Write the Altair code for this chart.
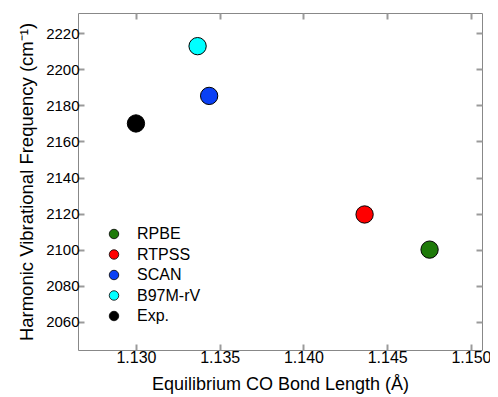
import altair as alt
import pandas as pd

methods = ["RPBE", "RTPSS", "SCAN", "B97M-rV", "Exp."]
bond_length = [1.14753, 1.14365, 1.13437, 1.13368, 1.1300]
frequency = [2100.0, 2119.5, 2185.3, 2212.9, 2170.0]
colors = ["#1e7a0a", "#ff0000", "#0a40f5", "#00ffff", "#000000"]
x_ticks = [1.130, 1.135, 1.140, 1.145, 1.150]
y_ticks = [2060, 2080, 2100, 2120, 2140, 2160, 2180, 2200, 2220]

df = pd.DataFrame({"method": methods, "r": bond_length, "f": frequency})

FONT = "Liberation Sans"
xscale = alt.Scale(domain=[1.12654, 1.15066], nice=False, zero=False)
yscale = alt.Scale(domain=[2044.3, 2231.3], nice=False, zero=False)
GRAY = "#888888"
TICK = "#9a9a9a"
INWARD = alt.ExprRef(expr="-6")

points = alt.Chart(df).mark_circle(size=300, opacity=1, stroke="black", strokeWidth=1).encode(
    x=alt.X("r:Q", scale=xscale, axis=alt.Axis(
        title="Equilibrium CO Bond Length (Å)", values=x_ticks, format=".3f",
        ticks=True, tickSize=INWARD, tickColor=TICK, tickWidth=2,
        domain=False, grid=False, labelFontSize=16, titleFontSize=18,
        labelFont=FONT, titleFont=FONT, labelColor="black", titleColor="black",
        labelPadding=5, titlePadding=10, titleFontWeight="normal")),
    y=alt.Y("f:Q", scale=yscale, axis=alt.Axis(
        title="Harmonic Vibrational Frequency (cm⁻¹)", values=y_ticks, format="d",
        ticks=True, tickSize=INWARD, tickColor=TICK, tickWidth=2,
        domain=False, grid=False, labelFontSize=15, titleFontSize=18.5,
        labelFont=FONT, titleFont=FONT, labelColor="black", titleColor="black",
        labelPadding=5, titlePadding=9, titleFontWeight="normal")),
    color=alt.Color("method:N", scale=alt.Scale(domain=methods, range=colors),
                    legend=alt.Legend(title=None, orient="none", legendX=28, legendY=213,
                                      labelFont=FONT, labelFontSize=16, labelColor="black",
                                      symbolType="circle", symbolSize=90,
                                      symbolStrokeColor="black", symbolStrokeWidth=0.8,
                                      rowPadding=4.5, labelOffset=15)),
)

mirror = alt.Chart(df).mark_point(opacity=0).encode(
    x=alt.X("r:Q", scale=xscale, axis=alt.Axis(
        orient="top", values=x_ticks, labels=False, title=None, domain=False,
        grid=False, ticks=True, tickSize=INWARD, tickColor=TICK, tickWidth=2)),
    y=alt.Y("f:Q", scale=yscale, axis=alt.Axis(
        orient="right", values=y_ticks, labels=False, title=None, domain=False,
        grid=False, ticks=True, tickSize=INWARD, tickColor=TICK, tickWidth=2)),
)

chart = alt.layer(points, mirror).resolve_axis(
    x="independent", y="independent"
).properties(
    width=404, height=337,
    autosize=alt.AutoSizeParams(type="none"),
    padding={"left": 70, "top": 5, "right": 8, "bottom": 47},
).configure_view(stroke=GRAY, strokeWidth=1)

chart.save("out.html", embed_options={"renderer": "svg", "actions": False})
